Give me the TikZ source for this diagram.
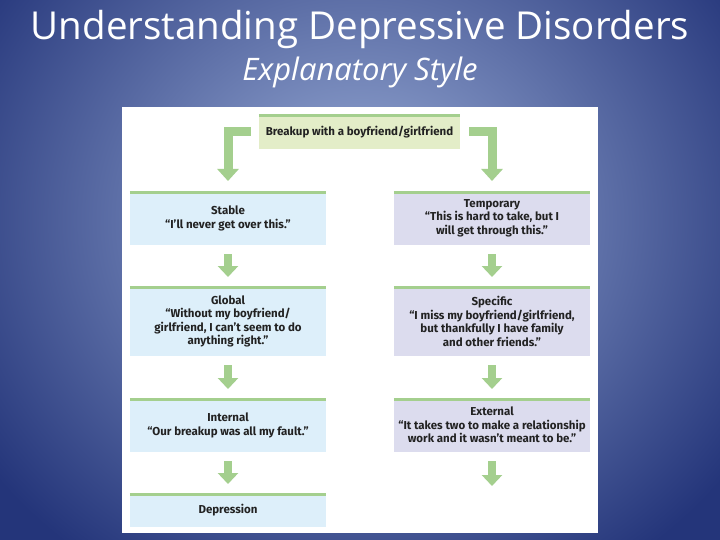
\documentclass[tikz,border=0pt]{standalone}
\usepackage{fontspec}
\setmainfont{Fira Sans}
\newfontfamily\titlefont{Open Sans}
\usetikzlibrary{arrows.meta}
\definecolor{bgin}{HTML}{9DB0D9}
\definecolor{bgout}{HTML}{24357A}
\definecolor{lblue}{HTML}{DDEFFA}
\definecolor{lpurp}{HTML}{DCDCEE}
\definecolor{lgreen}{HTML}{E3EDC8}
\definecolor{agreen}{HTML}{A4CF8E}
\definecolor{txt}{HTML}{222222}
\tikzset{
 box/.style={rectangle, minimum width=196pt, inner sep=0pt, align=center, text=txt, font=\fontsize{11.5}{13.5}\selectfont\bfseries, anchor=north},
 lbox/.style={box, fill=lblue},
 rbox/.style={box, fill=lpurp},
 topline/.style={draw=agreen, line width=3pt},
 barrow/.style={draw=agreen, line width=8pt, -{Triangle[width=20pt,length=11pt]}},
 elbow/.style={draw=agreen, line width=9pt, -{Triangle[width=21pt,length=12pt]}},
}
\begin{document}
\begin{tikzpicture}[x=1pt,y=-1pt]
\useasboundingbox (0,0) rectangle (720,540);
\shade[inner color=bgin, outer color=bgout] (-100,-200) rectangle (820,640);
\fill[white] (122,107) rectangle (598,533);
\node[font=\titlefont\fontsize{38.5}{42}\selectfont, text=white] (title) at (360,30) {Understanding Depressive Disorders};
\node[font=\titlefont\itshape\fontsize{31}{34}\selectfont, text=white] (sub) at (360,72) {Explanatory Style};
% top box
\node[box, fill=lgreen, minimum width=201pt, minimum height=35pt] (top) at (359.5,114) {Breakup with a boyfriend/girlfriend};
% left column
\node[lbox, minimum height=54pt] (stable) at (228,191) {Stable\\“I’ll never get over this.”};
\node[lbox, minimum height=70pt] (global) at (228,286) {Global\\“Without my boyfriend/\\girlfriend, I can’t seem to do\\anything right.”};
\node[lbox, minimum height=54pt] (internal) at (228,398) {Internal\\“Our breakup was all my fault.”};
\node[lbox, minimum height=34pt] (depr) at (228,493) {Depression};
% right column
\node[rbox, minimum height=54pt] (temp) at (492,191) {Temporary\\“This is hard to take, but I\\will get through this.”};
\node[rbox, minimum height=70pt] (spec) at (492,286) {Specific\\“I miss my boyfriend/girlfriend,\\but thankfully I have family\\and other friends.”};
\node[rbox, minimum height=54pt] (ext) at (492,398) {External\\“It takes two to make a relationship\\work and it wasn’t meant to be.”};
\coordinate (endr) at (492,486);
\foreach \n in {top,stable,global,internal,depr,temp,spec,ext}
  \draw[topline] ([yshift=-1.5]\n.north west) -- ([yshift=-1.5]\n.north east);
% arrows
\draw[elbow] ([xshift=-8]top.west |- 0,132) -| ([yshift=10]stable.north);
\draw[elbow] ([xshift=9]top.east |- 0,132) -| ([yshift=10]temp.north);
\draw[barrow] ([yshift=-9]stable.south) -- ([yshift=9]global.north);
\draw[barrow] ([yshift=-9]global.south) -- ([yshift=9]internal.north);
\draw[barrow] ([yshift=-9]internal.south) -- ([yshift=9]depr.north);
\draw[barrow] ([yshift=-9]temp.south) -- ([yshift=9]spec.north);
\draw[barrow] ([yshift=-9]spec.south) -- ([yshift=9]ext.north);
\draw[barrow] ([yshift=-9]ext.south) -- (endr);
\end{tikzpicture}
\end{document}
